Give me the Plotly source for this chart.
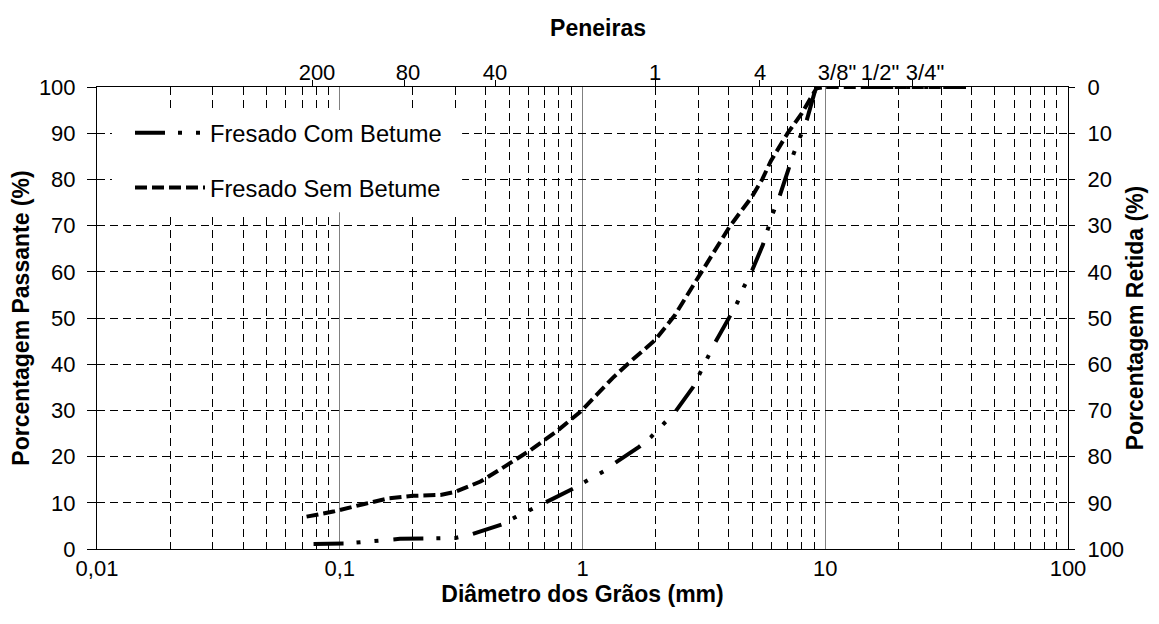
import plotly.graph_objects as go

# ---- data ----
com_x = [0.078, 0.105, 0.177, 0.22, 0.26, 0.30, 0.35, 0.47, 0.53, 0.61, 0.75, 0.917, 1.07, 1.22, 1.36,
         1.71, 1.92, 2.16, 2.41, 2.86, 3.5, 4.04, 4.35, 4.63, 4.97, 5.53, 5.78, 6.09, 6.44, 7.07, 7.4,
         8.4, 9.1, 10.0, 12.7, 19.0, 25.0, 38.0]
com_y = [1.1, 1.2, 2.2, 2.2, 2.2, 2.4, 3.2, 5.4, 6.9, 8.4, 10.8, 13.1, 15.0, 16.8, 18.6,
         22.1, 24.3, 27.1, 29.7, 35.1, 44.5, 50.3, 53.4, 56.8, 60.0, 65.8, 69.0, 72.7, 75.9, 82.0, 85.5,
         92.9, 99.4, 100, 100, 100, 100, 100]

sem_x = [0.073, 0.094, 0.125, 0.16, 0.20, 0.26, 0.30, 0.38, 0.49, 0.61, 0.78, 0.98, 1.14, 1.33, 1.57,
         1.99, 2.4, 3.0, 4.04, 4.98, 5.5, 5.97, 6.4, 7.0, 8.0, 9.2, 10.0, 12.7, 19.0, 25.0, 38.0]
sem_y = [7.0, 8.1, 9.7, 11.0, 11.5, 11.7, 12.4, 14.6, 18.2, 21.4, 25.4, 29.7, 33.3, 37.0, 40.5,
         45.2, 50.6, 58.9, 69.8, 76.2, 80.0, 84.0, 86.6, 90.0, 94.3, 99.7, 100, 100, 100, 100, 100]

series_names = ["Fresado Com Betume", "Fresado Sem Betume"]

x_tickvals = [0.01, 0.1, 1, 10, 100]
x_ticktext = ["0,01", "0,1", "1", "10", "100"]
minor_vals = [m * 10.0 ** e for e in (-2, -1, 0, 1) for m in range(2, 10)]

# sieve tick marks (top axis) and where their labels sit
sieve_ticks = [0.0769, 0.184, 0.440, 1.99, 5.335, 11.5, 15.14, 22.77]
sieve_label_pos = [0.0806, 0.191, 0.436, 1.99, 5.385, 11.18, 16.81, 25.76]
sieve_text = ["200", "80", "40", "1", "4", '3/8"', '1/2"', '3/4"']

y_ticks = list(range(0, 101, 10))

FONT = "Liberation Sans, Arial, sans-serif"
TICK = 22
TITLE = 23

fig = go.Figure()
fig.add_trace(go.Scatter(
    x=com_x, y=com_y, name=series_names[0], mode="lines",
    line=dict(color="black", width=4, dash="30px,13px,4px,14px,4px,15px"),
    legendgroup="a"))
fig.add_trace(go.Scatter(
    x=sem_x, y=sem_y, name=series_names[1], mode="lines",
    line=dict(color="black", width=4, dash="12px,5px"),
    legendgroup="b"))
# invisible traces to activate secondary axes
fig.add_trace(go.Scatter(
    x=[0.01, 100], y=[100, 0], xaxis="x2", yaxis="y2", mode="markers",
    marker=dict(opacity=0), showlegend=False, hoverinfo="skip"))
fig.add_trace(go.Scatter(
    x=[0.01, 100], y=[100, 0], xaxis="x3", yaxis="y2", mode="markers",
    marker=dict(opacity=0), showlegend=False, hoverinfo="skip"))

# white legend box background (covers gridlines like the original)
fig.add_shape(type="rect", xref="paper", yref="paper",
              x0=0.0154, x1=0.376, y0=0.729, y1=0.950,
              fillcolor="white", line=dict(width=0), layer="above")

fig.update_layout(
    width=1151, height=616,
    margin=dict(l=89, r=91, t=79, b=75, autoexpand=False),
    paper_bgcolor="white", plot_bgcolor="white",
    font=dict(family=FONT, size=TICK, color="black"),
    title=dict(text="Peneiras", font=dict(family=FONT, size=TITLE, weight="bold"),
               xref="paper", x=0.516, xanchor="center",
               yref="container", y=1 - 20 / 616, yanchor="middle"),
    showlegend=True,
    legend=dict(x=0.034, y=0.9485, xanchor="left", yanchor="top",
                bgcolor="rgba(255,255,255,0)", borderwidth=0, itemwidth=70,
                font=dict(family=FONT, size=23.7), tracegroupgap=21,
                traceorder="grouped"),
    xaxis=dict(type="log", range=[-2, 2], tickvals=x_tickvals, ticktext=x_ticktext,
               showgrid=True, gridcolor="#808080", gridwidth=1,
               minor=dict(tickvals=minor_vals, showgrid=True, gridcolor="black",
                          gridwidth=1, griddash="8px,5px", ticks=""),
               showline=True, linecolor="black", linewidth=1, ticks="",
               zeroline=False,
               title=dict(text="Diâmetro dos Grãos (mm)", standoff=2,
                          font=dict(family=FONT, size=TITLE, weight="bold"))),
    xaxis2=dict(type="log", range=[-2, 2], overlaying="x", side="top",
                tickvals=sieve_ticks, showticklabels=False, ticks="outside",
                ticklen=6, tickcolor="black", showgrid=False, showline=True,
                linecolor="black", linewidth=1, zeroline=False),
    xaxis3=dict(type="log", range=[-2, 2], overlaying="x", side="top",
                tickvals=sieve_label_pos, ticktext=sieve_text, tickangle=0,
                ticks="", showgrid=False, showline=False, zeroline=False,
                ticklabelstandoff=2),
    yaxis=dict(range=[0, 100], tickvals=y_ticks, showgrid=True, gridcolor="black",
               gridwidth=1, griddash="8px,5px", ticks="outside", ticklen=9,
               tickcolor="black", showline=True, linecolor="black", linewidth=1,
               zeroline=False, ticklabelstandoff=7,
               title=dict(text="Porcentagem Passante (%)", standoff=7,
                          font=dict(family=FONT, size=TITLE, weight="bold"))),
    yaxis2=dict(range=[100, 0], overlaying="y", side="right", tickvals=y_ticks,
                ticks="outside", ticklen=6, tickcolor="black", showgrid=False,
                showline=True, linecolor="black", linewidth=1, zeroline=False,
                ticklabelstandoff=8,
                title=dict(text="Porcentagem Retida (%)", standoff=3,
                           font=dict(family=FONT, size=TITLE, weight="bold"))),
)

fig.write_html("out.html")
